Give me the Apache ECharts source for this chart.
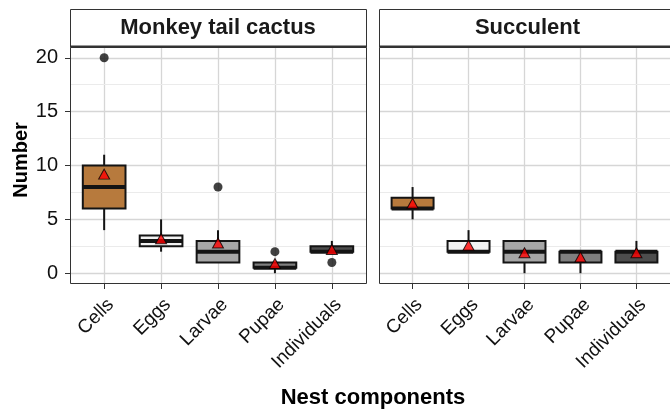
<!DOCTYPE html>
<html><head><meta charset="utf-8">
<script src="https://cdn.jsdelivr.net/npm/echarts@6/dist/echarts.min.js"></script>
<style>html,body{margin:0;padding:0;background:#fff}#c{width:670px;height:410px}</style>
</head><body><div id="c"></div>
<script>
const categories = ['Cells', 'Eggs', 'Larvae', 'Pupae', 'Individuals'];
const panels = ['Monkey tail cactus', 'Succulent'];
// [lower whisker, Q1, median, Q3, upper whisker]
const cactusBox = [[4, 6, 8, 10, 11], [2, 2.5, 3, 3.5, 5], [1, 1, 2, 3, 4], [0, 0.5, 0.5, 1, 1], [2, 2, 2, 2.5, 3]];
const succulentBox = [[5, 6, 6, 7, 8], [2, 2, 2, 3, 4], [0, 1, 2, 3, 3], [0, 1, 2, 2, 2], [1, 1, 2, 2, 3]];
const cactusMeans = [9.2, 3.2, 2.8, 0.9, 2.2];
const succulentMeans = [6.5, 2.6, 1.9, 1.5, 1.9];
const cactusOutlierCat = ['Cells', 'Larvae', 'Pupae', 'Individuals'];
const cactusOutlierVal = [20, 8, 2, 1];
const succulentOutlierCat = [];
const succulentOutlierVal = [];
const yTicks = [0, 5, 10, 15, 20];
const yMinorTicks = [2.5, 7.5, 12.5, 17.5];
const boxColors = ['#B77A3D', '#F2F2F2', '#A6A6A6', '#7F7F7F', '#4D4D4D'];

const FONT = '"Liberation Sans", Arial, sans-serif';
const chart = echarts.init(document.getElementById('c'), null, {renderer: 'canvas'});

const gridPos = [{left: 70, width: 296}, {left: 379, width: 297}];
const TOP = 47, H = 237;

function renderBox(params, api) {
  const idx = api.value(0);
  const lo = api.coord([idx, api.value(1)]);
  const q1 = api.coord([idx, api.value(2)]);
  const med = api.coord([idx, api.value(3)]);
  const q3 = api.coord([idx, api.value(4)]);
  const hi = api.coord([idx, api.value(5)]);
  const half = api.size([1, 0])[0] * 0.375;
  const x = q1[0];
  const s = {stroke: '#141414', lineWidth: 2};
  return {type: 'group', children: [
    {type: 'line', shape: {x1: x, y1: hi[1], x2: x, y2: q3[1]}, style: s},
    {type: 'line', shape: {x1: x, y1: q1[1], x2: x, y2: lo[1]}, style: s},
    {type: 'rect', shape: {x: x - half, y: q3[1], width: 2 * half, height: q1[1] - q3[1]},
      style: {fill: boxColors[idx], stroke: '#141414', lineWidth: 2}},
    {type: 'line', shape: {x1: x - half, y1: med[1], x2: x + half, y2: med[1]},
      style: {stroke: '#141414', lineWidth: 4}}
  ]};
}

const grids = [], xAxes = [], yAxes = [], series = [], graphics = [];
const boxes = [cactusBox, succulentBox];
const means = [cactusMeans, succulentMeans];
const outCats = [cactusOutlierCat, succulentOutlierCat];
const outVals = [cactusOutlierVal, succulentOutlierVal];

panels.forEach((name, p) => {
  grids.push({left: gridPos[p].left, top: TOP, width: gridPos[p].width, height: H, containLabel: false});
  xAxes.push({
    type: 'value', gridIndex: p, min: -0.6, max: 4.6, splitNumber: 5,
    axisLine: {show: false, onZero: false},
    axisTick: {show: true, length: 5, customValues: [0, 1, 2, 3, 4], lineStyle: {color: '#333', width: 1}},
    axisLabel: {customValues: [0, 1, 2, 3, 4], rotate: 45, margin: 11, verticalAlign: 'top',
      fontSize: 19, color: '#111', fontFamily: FONT,
      formatter: v => categories[Math.round(v)] || ''},
    splitLine: {show: true, lineStyle: {color: '#D6D6D6', width: 1.3}}
  });
  yAxes.push({
    type: 'value', gridIndex: p, min: -1, max: 21, splitNumber: 5,
    axisLine: {show: false, onZero: false},
    axisTick: {show: p === 0, length: 5, customValues: yTicks, lineStyle: {color: '#333', width: 1}},
    axisLabel: {show: p === 0, customValues: yTicks, fontSize: 20, color: '#111', fontFamily: FONT, margin: 12},
    splitLine: {show: true, lineStyle: {color: '#D6D6D6', width: 1.3}}
  });
  series.push({
    type: 'line', xAxisIndex: p, yAxisIndex: p, data: [], z: 1, silent: true,
    markLine: {z: 1, silent: true, symbol: 'none', label: {show: false},
      lineStyle: {color: '#EBEBEB', width: 1, type: 'solid'},
      data: yMinorTicks.map(v => ({yAxis: v}))}
  });
  series.push({
    type: 'custom', xAxisIndex: p, yAxisIndex: p, z: 3, silent: true,
    renderItem: renderBox,
    encode: {x: 0, y: [1, 2, 3, 4, 5]},
    data: boxes[p].map((b, i) => [i].concat(b))
  });
  series.push({
    type: 'scatter', xAxisIndex: p, yAxisIndex: p, z: 4, silent: true,
    symbol: 'circle', symbolSize: 9, itemStyle: {color: '#111'},
    data: outCats[p].map((c, i) => [categories.indexOf(c), outVals[p][i]])
  });
  series.push({
    type: 'scatter', xAxisIndex: p, yAxisIndex: p, z: 5, silent: true,
    symbol: 'triangle', symbolSize: [11, 10],
    itemStyle: {color: '#FF0000', borderColor: '#000', borderWidth: 1},
    data: means[p].map((m, i) => [i, m])
  });
  const L = gridPos[p].left, W = gridPos[p].width;
  graphics.push({type: 'rect', z: 100, shape: {x: L + 0.5, y: TOP + 0.5, width: W, height: H - 1},
    style: {fill: 'none', stroke: '#333', lineWidth: 1}});
  graphics.push({type: 'rect', z: 100, shape: {x: L + 0.5, y: 9.5, width: W, height: TOP - 10},
    style: {fill: '#fff', stroke: '#333', lineWidth: 1}});
  graphics.push({type: 'line', z: 101, shape: {x1: L, y1: TOP - 0.5, x2: L + W + 1, y2: TOP - 0.5},
    style: {stroke: '#333', lineWidth: 2}});
  graphics.push({type: 'text', z: 102, x: L + W / 2, y: 28,
    style: {text: name, fill: '#1a1a1a', font: 'bold 22px ' + FONT, align: 'center', verticalAlign: 'middle'}});
});

graphics.push({type: 'text', z: 102, x: 373, y: 398,
  style: {text: 'Nest components', fill: '#000', font: 'bold 22px ' + FONT, align: 'center', verticalAlign: 'middle'}});
graphics.push({type: 'text', z: 102, x: 21, y: 160, rotation: Math.PI / 2,
  style: {text: 'Number', fill: '#000', font: 'bold 20px ' + FONT, align: 'center', verticalAlign: 'middle'}});

chart.setOption({
  animation: false,
  backgroundColor: '#fff',
  grid: grids, xAxis: xAxes, yAxis: yAxes, series: series, graphic: graphics
});
</script></body></html>
